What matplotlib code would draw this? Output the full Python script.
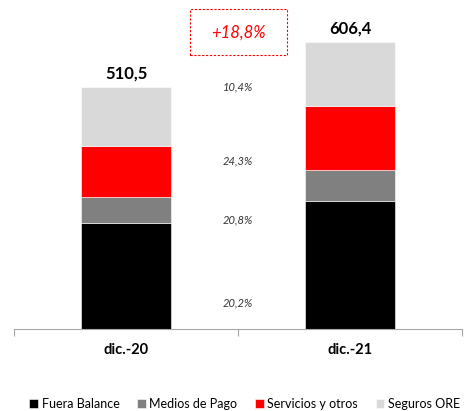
import matplotlib.pyplot as plt
from matplotlib.patches import Rectangle

plt.rcParams['font.family'] = ['Lato', 'DejaVu Sans']

periodos = ["dic.-20", "dic.-21"]
series = ["Fuera Balance", "Medios de Pago", "Servicios y otros", "Seguros ORE"]
colores = ["#000000", "#808080", "#ff0000", "#d9d9d9"]
fuera_balance = [224.6, 270.0]
medios_pago = [53.7, 64.9]
servicios = [109.1, 135.6]
seguros = [123.1, 135.9]
totales = ["510,5", "606,4"]
crecimientos = ["20,2%", "20,8%", "24,3%", "10,4%"]
crec_y = [55, 230, 355, 511]   # posicion vertical de cada etiqueta
crec_total = "+18,8%"

valores = [fuera_balance, medios_pago, servicios, seguros]

fig = plt.figure(figsize=(4.66, 4.11), dpi=100)
ax = fig.add_axes([14/466, 82/411, 448/466, 329/411])

x = [0, 1]
base = [0, 0]
for vals, col, nom in zip(valores, colores, series):
    ax.bar(x, vals, width=0.4, bottom=base, color=col, label=nom,
           edgecolor="white", linewidth=0.4)
    base = [b + v for b, v in zip(base, vals)]

for xi, tot, lab in zip(x, base, totales):
    ax.text(xi, tot + 12, lab, ha="center", va="bottom", fontsize=12,
            fontweight="bold", color="black")

for txt, yy in zip(crecimientos, crec_y):
    ax.text(0.5, yy, txt, ha="center", va="center", fontsize=8,
            style="italic", color="#333333")

ax.add_patch(Rectangle((0.286, 579), 0.433, 97, fill=False, edgecolor="#ff0000",
                       linestyle=(0, (2, 1.5)), linewidth=0.8, clip_on=False))
ax.text(0.5, 627, crec_total, ha="center", va="center", fontsize=12,
        style="italic", color="#ff0000")

ax.set_xlim(-0.5, 1.5)
ax.set_ylim(0, 695)
for s in ["top", "right", "left"]:
    ax.spines[s].set_visible(False)
ax.spines["bottom"].set_color("#a6a6a6")
ax.set_yticks([])
ax.set_xticks([-0.5, 0.5, 1.5])
ax.set_xticklabels([])
ax.tick_params(axis="x", length=5, color="#a6a6a6", direction="out")
for xi, p in zip(x, periodos):
    ax.text(xi, -30, p, ha="center", va="top", fontsize=10.5, fontweight="bold")

fig.legend(loc="lower center", bbox_to_anchor=(0.525, -0.025), ncol=4, frameon=False,
           fontsize=9, handlelength=0.7, handleheight=0.7, handletextpad=0.3,
           columnspacing=1.4)

fig.savefig("out.png", dpi=100)
